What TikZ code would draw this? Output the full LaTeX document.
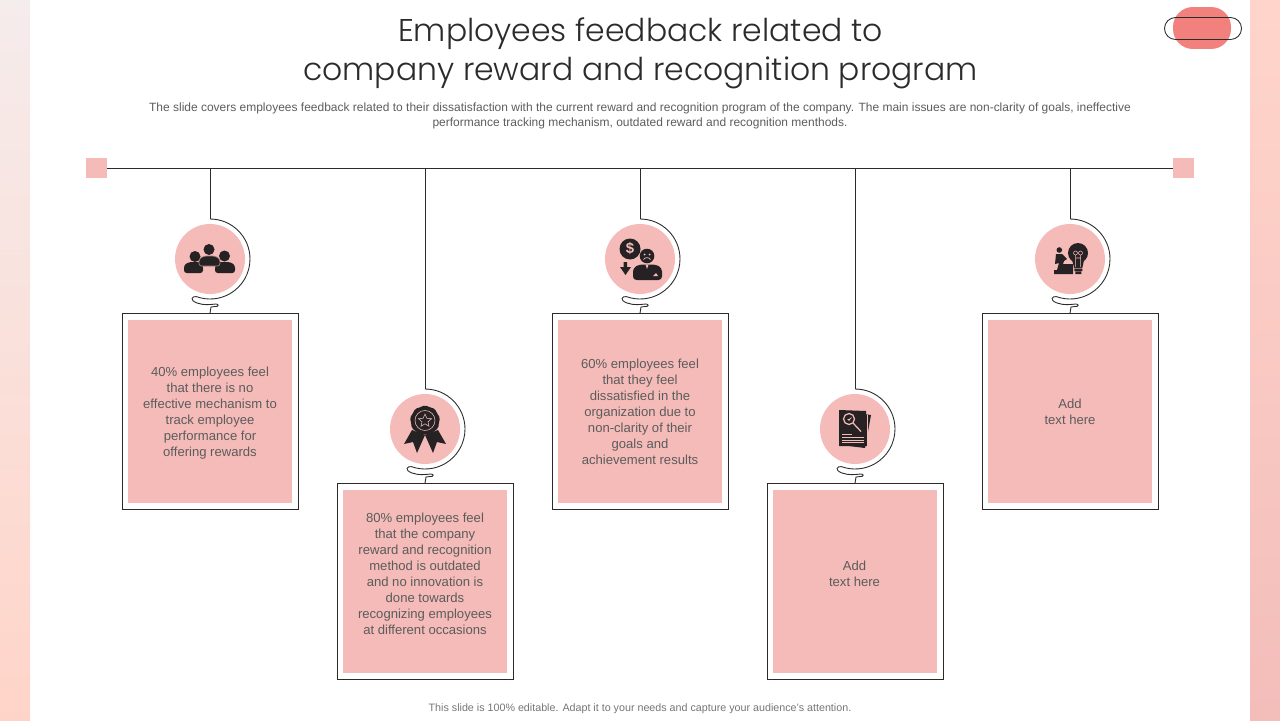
\documentclass[tikz,border=0pt]{standalone}
\usepackage{fontspec}
\setmainfont{Liberation Sans}
\newfontfamily\titlefont{Poppins Light}
\definecolor{rosefill}{HTML}{F4BBB9}
\definecolor{coralfill}{HTML}{F2807C}
\definecolor{inkline}{HTML}{2B2B2B}
\definecolor{bodytext}{HTML}{5C5C5C}
\definecolor{icondark}{HTML}{262223}
\definecolor{bandLtop}{HTML}{F5ECEC}
\definecolor{bandLbot}{HTML}{FFD4C8}
\definecolor{bandRtop}{HTML}{FFD5CB}
\definecolor{bandRbot}{HTML}{F3BDBA}
\tikzset{
    hangline/.style={draw=inkline,line width=0.5pt},
    endsq/.style={rectangle,fill=rosefill,minimum width=0.42cm,minimum height=0.4cm,inner sep=0pt},
    disc/.style={circle,fill=rosefill,minimum size=1.4cm,inner sep=0pt},
    frame/.style={rectangle,draw=inkline,line width=0.5pt,fill=white,minimum width=3.52cm,minimum height=3.92cm,inner sep=0pt},
    card/.style={rectangle,fill=rosefill,minimum width=3.28cm,minimum height=3.68cm,inner sep=0pt},
    cardtext/.style={align=center,text=bodytext,inner sep=0pt,font=\fontsize{7.45}{9.1}\selectfont},
    ico/.style={fill=icondark,draw=none},
    icoline/.style={draw=rosefill,line width=0.3pt},
}
\begin{document}
\begin{tikzpicture}[x=0.02cm,y=-0.02cm]
    \useasboundingbox (0,0) rectangle (1280,720);
    % side bands
    \shade[top color=bandLtop,bottom color=bandLbot] (0,0) rectangle (30,720);
    \shade[top color=bandRtop,bottom color=bandRbot] (1250,0) rectangle (1280,720);
    % badge
    \node[rectangle,rounded corners=0.4cm,fill=coralfill,minimum width=1.16cm,minimum height=0.84cm,inner sep=0pt] (blob) at (1202,28) {};
    \node[rectangle,rounded corners=0.22cm,draw=inkline,line width=0.5pt,minimum width=1.54cm,minimum height=0.44cm,inner sep=0pt] (pill) at (1203,28.5) {};
    % heading
    \node[align=center,text=inkline,font=\titlefont\fontsize{17.9}{22.2}\selectfont] (title) at (640.5,53) {Employees feedback related to\\company reward and recognition program};
    \node[align=center,text=bodytext,font=\fontsize{6.82}{8.1}\selectfont] (sub) at (640,116) {The slide covers employees feedback related to their dissatisfaction with the current reward and recognition program of the company. The main issues are non-clarity of goals, ineffective\\performance tracking mechanism, outdated reward and recognition menthods.};
    \node[align=center,text=bodytext!85!white,font=\fontsize{6.1}{7}\selectfont] (foot) at (640,709) {This slide is 100\% editable.  Adapt it to your needs and capture your audience's attention.};
    % top rail
    \node[endsq] (sqL) at (96.5,168) {};
    \node[endsq] (sqR) at (1183.5,168) {};
    \draw[hangline] (sqL.east) -- (sqR.west);
    % columns
    \foreach \i/\x/\y in {1/210/259,2/425/429,3/640/259,4/855/429,5/1070/259}{
        \coordinate (rail\i) at (\x,168);
        \coordinate (arc\i) at (\x,\y-40);
        \node[disc] (disc\i) at (\x,\y) {};
        \node[frame] (frame\i) at (\x,\y+152.5) {};
        \node[card] (card\i) at (frame\i) {};
        \draw[hangline] (rail\i) -- (arc\i);
        \draw[hangline] (arc\i) arc[start angle=-90,end angle=110,radius=40]
            .. controls (\x-18,\y+37) and (\x-21,\y+41) .. (\x-13,\y+44)
            .. controls (\x-6,\y+46.5) and (\x,\y+45.5) .. (\x+6,\y+45)
            .. controls (\x+9,\y+45) and (\x+9,\y+48) .. (\x+5,\y+47.5)
            -- (\x+1,\y+48) -- (frame\i.north -| arc\i);
    }
    \node[cardtext] (text1) at (210,413) {40\% employees feel\\that there is no\\effective  mechanism to\\track employee\\performance  for\\offering  rewards};
    \node[cardtext] (text2) at (425,574) {80\% employees feel\\that the company\\reward  and recognition\\method is outdated\\and no innovation  is\\done towards\\recognizing employees\\at different  occasions};
    \node[cardtext] (text3) at (640,412) {60\% employees feel\\that they feel\\dissatisfied in the\\organization  due to\\non-clarity of their\\goals and\\achievement  results};
    \node[cardtext] (text4) at (854.5,574) {Add\\text here};
    \node[cardtext] (text5) at (1070,412) {Add\\text here};
    % people icon
    \begin{scope}[shift={(disc1.center)}]
        \fill[ico] (-15,-2.5) circle (5.5) (14.5,-3) circle (5.5) (-1,-9.5) circle (5.5);
        \fill[ico,rounded corners=1.5pt] (-26,14) -- (-26,6) -- (-21,3) -- (-9,3) -- (-7,7) -- (-7,14) -- cycle;
        \fill[ico,rounded corners=1.5pt] (25,14) -- (25,6) -- (20,3) -- (8,3) -- (5,7) -- (5,14) -- cycle;
        \draw[ico,draw=rosefill!60!icondark,line width=0.4pt,rounded corners=1.5pt] (-11,7) -- (-11,0) -- (-6,-3) -- (5,-3) -- (10,0) -- (10,7) -- cycle;
    \end{scope}
    % rosette icon
    \begin{scope}[shift={(disc2.center)}]
        \fill[ico] (-13,1) -- (-21,15) -- (-12,13) -- (-8,24) -- (0,6) -- cycle;
        \fill[ico] (13,1) -- (21,15) -- (12,13) -- (8,24) -- (0,6) -- cycle;
        \fill[ico,rounded corners=1pt] (0,-24) \foreach \a in {20,40,...,340}{ -- ({(14+(1+cos(\a*9))*0.7)*sin(\a)},{-8.5-(14+(1+cos(\a*9))*0.7)*cos(\a)}) } -- cycle;
        \draw[icoline] (0,-8.5) circle (10);
        \draw[icoline] (0,-15) -- (1.9,-10.7) -- (6.5,-10.3) -- (3,-7.2) -- (4,-2.8) -- (0,-5.2) -- (-4,-2.8) -- (-3,-7.2) -- (-6.5,-10.3) -- (-1.9,-10.7) -- cycle;
    \end{scope}
    % salary icon
    \begin{scope}[shift={(disc3.center)}]
        \fill[ico] (-10,-10) circle (10.5);
        \node[text=rosefill,font=\bfseries\fontsize{8.5}{8.5}\selectfont,inner sep=0pt] (dollar) at (-10,-10) {\$};
        \fill[ico] (-16.5,3) rectangle (-13,8) (-20,8) -- (-9,8) -- (-14.5,16) -- cycle;
        \fill[ico] (7,-3) circle (7.3);
        \draw[icoline,line width=0.4pt] (3.5,0.5) .. controls (5,-2) and (9,-2) .. (10.5,0.5);
        \fill[rosefill] (4.5,-4.5) circle (1) (9.5,-4.5) circle (1);
        \fill[ico,rounded corners=2pt] (-7,21) -- (-7,9) -- (-1,5.5) -- (16,5.5) -- (22,9) -- (22,21) -- cycle;
        \fill[rosefill] (5.5,5.5) -- (8.5,5.5) -- (7,10) -- cycle (13,17) -- (18,17) -- (16,14) -- cycle;
    \end{scope}
    % document icon
    \begin{scope}[shift={(disc4.center)}]
        \fill[ico] (8,-15) -- (16,-14) -- (10,19) -- (-6,17) -- cycle;
        \fill[ico] (-16,-19) -- (11,-18) -- (12,17) -- (-16,17) -- cycle;
        \draw[rosefill,line width=0.3pt] (12,-14) -- (12,17);
        \draw[icoline,line width=0.7pt] (-6,-10) circle (5.5) (-2,-6) -- (6,2.5);
        \fill[rosefill] (-8,-10) -- (-6,-8) -- (-3,-12) -- (-6,-10) -- cycle;
        \draw[icoline] (-13,5.5) -- (-3,5.5) (-13,8.5) -- (9,8.5) (-13,11) -- (9,11) (-13,13.5) -- (9,13.5);
    \end{scope}
    % bulb icon
    \begin{scope}[shift={(disc5.center)}]
        \fill[ico] (-10.7,-9) circle (2.8);
        \fill[ico] (-14,-5) -- (-8,-5) -- (-3,0) -- (-6,2) -- (-7,5) -- (-7,11) -- (-13,11) -- (-11,4) -- (-15,5) -- cycle;
        \fill[ico] (-16,15) -- (-16,11) -- (-7,11) -- (-7,5) -- (3,5) -- (3,15) -- cycle;
        \fill[ico] (8,-6) circle (10);
        \fill[ico] (2,1) -- (14,1) -- (12.3,9) -- (4.3,9) -- cycle;
        \fill[ico] (4.3,9.7) rectangle (12.3,12) (5.3,12.7) rectangle (11.3,15);
        \draw[icoline] (5.5,8) -- (5.5,-4) (10.5,8) -- (10.5,-4) (5.5,-6) circle (2) (10.5,-6) circle (2) (5.5,-1) -- (10.5,-1);
    \end{scope}
\end{tikzpicture}
\end{document}
